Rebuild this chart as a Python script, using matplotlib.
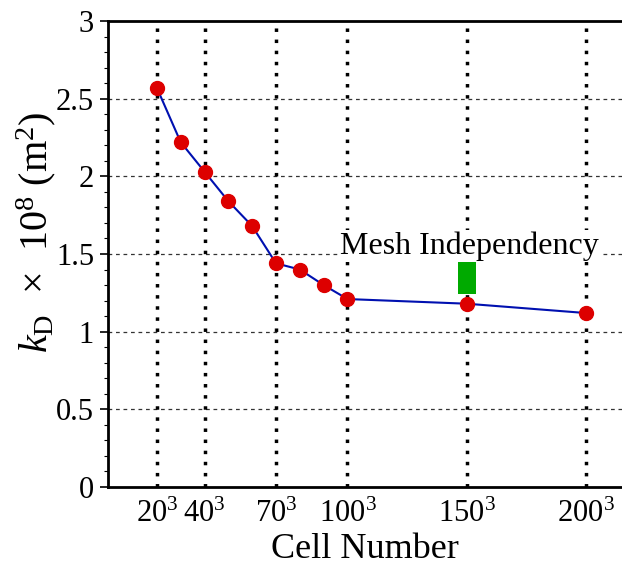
import matplotlib
matplotlib.use('agg')
import matplotlib.pyplot as plt
from matplotlib.ticker import MultipleLocator, FuncFormatter

# data
cells = [20, 30, 40, 50, 60, 70, 80, 90, 100, 150, 200]
kd = [2.57, 2.22, 2.03, 1.84, 1.68, 1.44, 1.40, 1.30, 1.21, 1.18, 1.12]
tick_pos = [20, 40, 70, 100, 150, 200]
tick_labels = [r'20$^3$', r'40$^3$', r'70$^3$', r'100$^3$', r'150$^3$', r'200$^3$']
bar_x = 150
bar_low, bar_high = 1.24, 1.45

plt.rcParams['font.family'] = ['Liberation Serif', 'DejaVu Serif']
plt.rcParams['mathtext.fontset'] = 'custom'
plt.rcParams['mathtext.rm'] = 'Liberation Serif'
plt.rcParams['mathtext.it'] = 'Liberation Serif:italic'

fig = plt.figure(figsize=(6.22, 5.65), dpi=100)
ax = fig.add_axes([108/622, 78/565, 1 - 108/622, (487 - 21)/565])

# grid: horizontal dashed, vertical dotted at labelled cells
for yv in [0.5, 1, 1.5, 2, 2.5]:
    ax.axhline(yv, color='#333333', lw=0.9, ls=(0, (3, 3)), zorder=1)
ax.vlines(tick_pos, 0, 3, colors='black', lw=2.5, linestyles=(0, (1, 2.2)), zorder=1)

ax.plot(cells, kd, color='#0010b0', lw=1.5, zorder=3)
ax.plot(cells, kd, 'o', color='#dd0000', ms=10, mec='#dd0000', zorder=4)

ax.bar(bar_x, bar_high - bar_low, bottom=bar_low, width=7.5, color='#00aa00', zorder=3)
ax.text(151, 1.55, 'Mesh Independency', ha='center', va='center', fontsize=23,
        bbox=dict(facecolor='white', edgecolor='none', pad=1), zorder=5)

ax.set_xlim(-0.5, 215.2)
ax.set_ylim(0, 3)
ax.set_xticks(tick_pos)
ax.set_xticklabels(tick_labels, fontsize=22)
ax.tick_params(axis='x', length=0, pad=9)
ax.yaxis.set_major_locator(MultipleLocator(0.5))
ax.yaxis.set_minor_locator(MultipleLocator(0.1))
ax.yaxis.set_major_formatter(FuncFormatter(lambda v, p: f'{v:g}'))
ax.tick_params(axis='y', which='major', length=6, width=1.2, labelsize=22, direction='out', pad=4)
ax.tick_params(axis='y', which='minor', length=3, width=0.8, direction='out')

for s in ['left', 'bottom', 'top']:
    ax.spines[s].set_linewidth(2)
ax.spines['right'].set_visible(False)

ax.set_xlabel('Cell Number', fontsize=26, labelpad=3)
ax.set_ylabel(r'$k_{\mathrm{D}}$  $\times$  10$^8$ (m$^2$)', fontsize=29, va='center')
ax.yaxis.set_label_coords(-0.14, 0.547)

fig.savefig('out.png', dpi=100)
